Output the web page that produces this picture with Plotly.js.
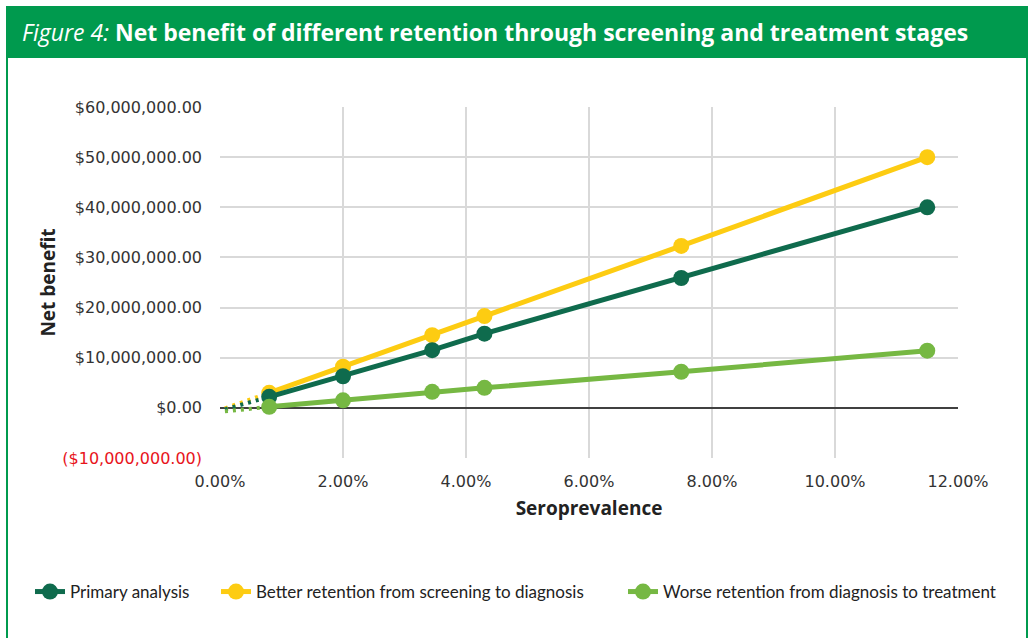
<!DOCTYPE html>
<html>
<head>
<meta charset="utf-8">
<script src="https://cdn.plot.ly/plotly-3.0.1.min.js"></script>
<style>
  html, body { margin: 0; padding: 0; background: #ffffff; }
  #chart { width: 1029px; height: 638px; }
</style>
</head>
<body>
<div id="chart"></div>
<script>
// ---- Data ----
const seroprevalence = [0.008, 0.02, 0.0345, 0.043, 0.075, 0.115];
const primaryAnalysis = [2.2e6, 6.3e6, 11.5e6, 14.8e6, 25.9e6, 40.0e6];
const betterRetention = [3.0e6, 8.2e6, 14.5e6, 18.3e6, 32.3e6, 50.0e6];
const worseRetention = [0.2e6, 1.5e6, 3.2e6, 4.0e6, 7.2e6, 11.4e6];

// dotted back-extensions toward the origin
const extX = [0.0008, 0.008];
const primaryExt = [-0.3e6, 2.2e6];
const betterExt = [-0.1e6, 3.0e6];
const worseExt = [-0.7e6, 0.2e6];

const seriesNames = [
  "Primary analysis",
  "Better retention from screening to diagnosis",
  "Worse retention from diagnosis to treatment"
];
const yTickVals = [-10e6, 0, 10e6, 20e6, 30e6, 40e6, 50e6, 60e6];
const xTickVals = [0, 0.02, 0.04, 0.06, 0.08, 0.10, 0.12];

const titleText = "<i style='font-weight:normal'>Figure 4:</i> <b>Net benefit of different retention through screening and treatment stages</b>";
const xTitle = "Seroprevalence";
const yTitle = "Net benefit";

// ---- Styling ----
const C_PRIMARY = "#0f6b4d";
const C_BETTER = "#fdcc12";
const C_WORSE = "#76b843";
const C_FRAME = "#009a4e";
const FONT = "Lato, 'Noto Sans', sans-serif";
const TICKFONT = "'DejaVu Sans', sans-serif";
const HEADFONT = "'Open Sans', 'Noto Sans', sans-serif";

function money(v) {
  const s = "$" + Math.abs(v).toLocaleString("en-US", {minimumFractionDigits: 2, maximumFractionDigits: 2});
  return v < 0 ? "<span style='color:#e8141b'>(" + s + ")</span>" : s;
}
const yTickText = yTickVals.map(money);

function lineTrace(y, name, color, rank, legendId) {
  return {
    x: seroprevalence, y: y, name: name, type: "scatter", mode: "lines+markers",
    line: {color: color, width: 5},
    marker: {color: color, size: 16},
    legendrank: rank, legend: legendId,
    hoverinfo: "x+y"
  };
}
function extTrace(y, color) {
  return {
    x: extX, y: y, type: "scatter", mode: "lines", showlegend: false,
    line: {color: color, width: 4, dash: "3px,5px"}, hoverinfo: "skip"
  };
}

const traces = [
  extTrace(betterExt, C_BETTER),
  extTrace(primaryExt, C_PRIMARY),
  extTrace(worseExt, C_WORSE),
  lineTrace(betterRetention, seriesNames[1], C_BETTER, 2, "legend2"),
  lineTrace(primaryAnalysis, seriesNames[0], C_PRIMARY, 1, "legend"),
  lineTrace(worseRetention, seriesNames[2], C_WORSE, 3, "legend3")
];

// plot area in pixels: x 220..958, y 107..458
const L = 220, R = 1029 - 958, T = 107, B = 638 - 458;
const PW = 1029 - L - R, PH = 638 - T - B;
const px = v => (v - L) / PW;
const py = v => (638 - B - v) / PH;

function legendAt(xpix) {
  return {
    orientation: "h",
    x: px(xpix), xanchor: "left",
    y: py(592), yanchor: "middle",
    font: {family: FONT, size: 17, color: "#222222"},
    itemwidth: 30,
    bgcolor: "rgba(0,0,0,0)"
  };
}

const layout = {
  width: 1029, height: 638,
  margin: {l: L, r: R, t: T, b: B, pad: 0},
  paper_bgcolor: "#ffffff", plot_bgcolor: "#ffffff",
  font: {family: FONT, color: "#333333", size: 15},
  title: {
    text: titleText,
    font: {family: HEADFONT, color: "#ffffff", size: 23},
    xref: "container", yref: "container",
    x: 22 / 1029, xanchor: "left",
    y: 1 - 33 / 638, yanchor: "middle"
  },
  showlegend: true,
  legend: legendAt(30),
  legend2: legendAt(216),
  legend3: legendAt(623),
  xaxis: {
    range: [0, 0.12],
    tickmode: "array", tickvals: xTickVals, tickformat: ".2%",
    showgrid: true, gridcolor: "#d9d9d9", gridwidth: 2,
    zeroline: false, showline: false,
    ticks: "", ticklabelstandoff: 12,
    tickfont: {family: TICKFONT, size: 16, color: "#333333"},
    title: {text: "<b>" + xTitle + "</b>", font: {family: HEADFONT, size: 19, color: "#222222"}, standoff: 11},
    fixedrange: true
  },
  yaxis: {
    range: [-10e6, 60e6],
    tickmode: "array", tickvals: yTickVals, ticktext: yTickText,
    showgrid: true, gridcolor: "#d9d9d9", gridwidth: 2,
    zeroline: true, zerolinecolor: "#404040", zerolinewidth: 2,
    showline: false,
    ticks: "", ticklabelstandoff: 17,
    tickfont: {family: TICKFONT, size: 16, color: "#333333"},
    title: {text: "<b>" + yTitle + "</b>", font: {family: HEADFONT, size: 19, color: "#222222"}, standoff: 1},
    fixedrange: true
  },
  shapes: [
    {type: "rect", xref: "paper", yref: "paper", layer: "below",
     x0: px(7), x1: px(1027), y0: py(660), y1: py(7),
     line: {color: C_FRAME, width: 2}, fillcolor: "rgba(0,0,0,0)"},
    {type: "rect", xref: "paper", yref: "paper", layer: "below",
     x0: px(7), x1: px(1027), y0: py(58), y1: py(7),
     line: {color: C_FRAME, width: 0}, fillcolor: C_FRAME}
  ]
};

Plotly.newPlot("chart", traces, layout, {displayModeBar: false, staticPlot: true});
</script>
</body>
</html>
